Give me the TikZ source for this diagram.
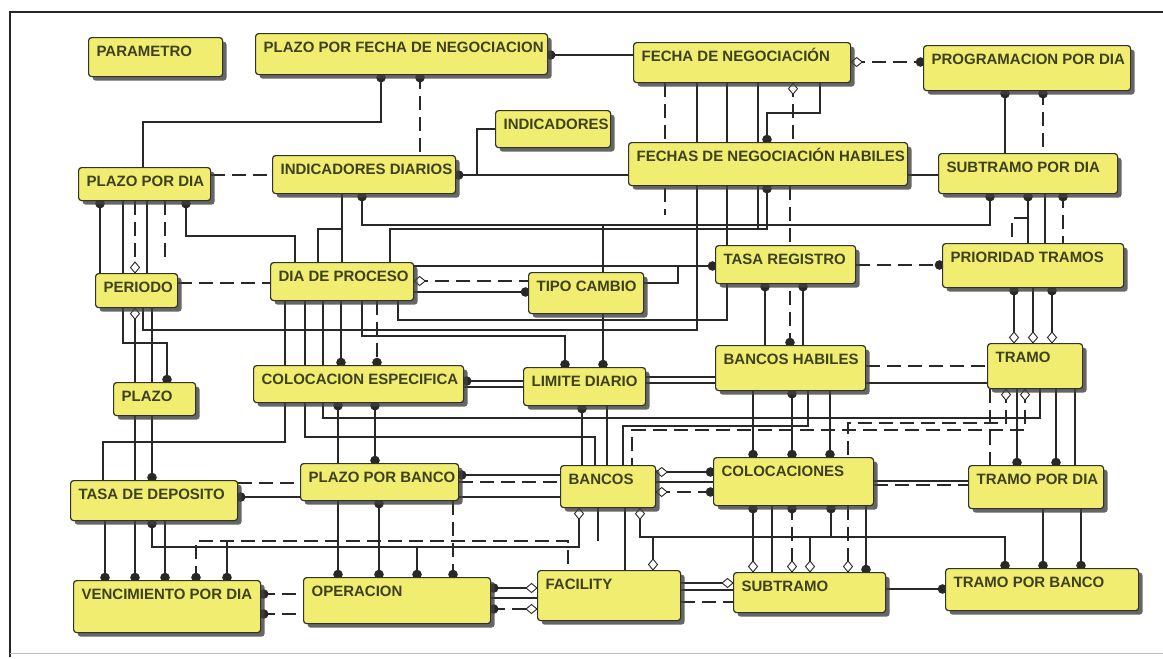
\documentclass[tikz,border=0pt]{standalone}
\usepackage{fontspec}
\setmainfont{Liberation Sans}
\usetikzlibrary{shadows,backgrounds,decorations.markings}
\definecolor{entfill}{RGB}{240,237,112}
\definecolor{entline}{RGB}{50,50,45}
\definecolor{enttext}{RGB}{62,64,30}
\definecolor{linec}{RGB}{40,40,40}
% end markers of the connectors
\newcommand\dotmark{\fill[linec] (0pt,0pt) circle (4.8pt);}
\newcommand\diamark{\filldraw[solid, draw=linec, fill=white, line width=0.9pt]
  (-5.5pt,0pt) -- (0pt,4.5pt) -- (5.5pt,0pt) -- (0pt,-4.5pt) -- cycle;}
\tikzset{
  entbox/.style={draw=entline, line width=1.2pt, fill=entfill, rounded corners=3pt,
    inner sep=0pt, anchor=north west, text=enttext,
    drop shadow={shadow xshift=4pt, shadow yshift=-4pt, fill=black!75, opacity=.8}},
  conn/.style={draw=linec, line width=1.05pt},
  dsh/.style={dash pattern=on 14pt off 7pt},
  dotE/.style={postaction={decorate, decoration={markings, mark=at position -2.5pt with {\dotmark}}}},
  dotS/.style={postaction={decorate, decoration={markings, mark=at position 2.5pt with {\dotmark}}}},
  dotB/.style={dotS, dotE},
  diaE/.style={postaction={decorate, decoration={markings, mark=at position -5.5pt with {\diamark}}}},
  diaS/.style={postaction={decorate, decoration={markings, mark=at position 5.5pt with {\diamark}}}},
  dotSdiaE/.style={dotS, diaE},
  diaSdotE/.style={diaS, dotE},
}
% entity box: name, left, top, width, height, title
\newcommand\entity[6]{%
  \node[entbox] (#1) at (#2,#3)
    {\parbox[b][#5pt][t]{#4pt}{\fontsize{15}{17}\selectfont\bfseries\hspace*{8pt}\rule{0pt}{19pt}#6}};}
\begin{document}
\begin{tikzpicture}[x=1pt,y=-1pt]
\useasboundingbox (0,0) rectangle (1163,659);

% entities
\entity{parametro}{88}{37}{134}{39}{PARAMETRO}
\entity{pfn}{255}{33}{292}{41}{PLAZO POR FECHA DE NEGOCIACION}
\entity{fn}{633}{42}{217}{40}{FECHA DE NEGOCIACIÓN}
\entity{prog}{923}{45}{207}{45}{PROGRAMACION POR DIA}
\entity{indic}{495}{110}{115}{37}{INDICADORES}
\entity{pxd}{78}{167}{132}{33}{PLAZO POR DIA}
\entity{indd}{272}{155}{183}{38}{INDICADORES DIARIOS}
\entity{fnh}{628}{142}{279}{43}{FECHAS DE NEGOCIACIÓN HABILES}
\entity{spd}{938}{153}{179}{40}{SUBTRAMO POR DIA}
\entity{periodo}{95}{273}{82}{34}{PERIODO}
\entity{dia}{270}{262}{143}{38}{DIA DE PROCESO}
\entity{tipo}{528}{272}{115}{41}{TIPO CAMBIO}
\entity{tasareg}{715}{245}{140}{38}{TASA REGISTRO}
\entity{prio}{942}{243}{181}{44}{PRIORIDAD TRAMOS}
\entity{plazo}{113}{382}{82}{33}{PLAZO}
\entity{colesp}{253}{365}{210}{37}{COLOCACION ESPECIFICA}
\entity{limite}{523}{367}{122}{38}{LIMITE DIARIO}
\entity{bh}{715}{345}{150}{45}{BANCOS HABILES}
\entity{tramo}{987}{343}{95}{45}{TRAMO}
\entity{tasadep}{70}{480}{167}{40}{TASA DE DEPOSITO}
\entity{pxb}{300}{463}{158}{37}{PLAZO POR BANCO}
\entity{bancos}{560}{465}{95}{42}{BANCOS}
\entity{coloc}{713}{457}{160}{48}{COLOCACIONES}
\entity{tpd}{968}{465}{135}{43}{TRAMO POR DIA}
\entity{vpd}{73}{580}{187}{52}{VENCIMIENTO POR DIA}
\entity{oper}{303}{577}{187}{46}{OPERACION}
\entity{facility}{537}{570}{143}{50}{FACILITY}
\entity{subtramo}{733}{572}{152}{40}{SUBTRAMO}
\entity{tpb}{945}{568}{193}{42}{TRAMO POR BANCO}

\coordinate (fnstub) at (665,215);
\coordinate (pxdstub) at (165,262);

\begin{scope}[on background layer]
\fill[white] (0,0) rectangle (1163,659);
% frame
\draw[line width=1.6pt, draw=black!85] (1163,12) -- (10,12) -- (10,657);
\draw[line width=1pt, draw=black!25] (10,653) -- (1163,653);
% upper band
\draw[conn,dotS] (pfn.east |- 0,55) -- (fn.west |- 0,55);
\draw[conn,dotS] (pfn.south -| 381,0) -- (381,122) -- (143,122) -- (pxd.north -| 143,0);
\draw[conn,dsh,dotS] (pfn.south -| 420,0) -- (indd.north -| 420,0);
\draw[conn,dsh,diaSdotE] (fn.east |- 0,62) -- (prog.west |- 0,62);
\draw[conn,dsh,diaS] (fn.south -| 793,0) -- (fnh.north -| 793,0);
\draw[conn,dotE] (fn.south -| 820,0) -- (820,113) -- (767,113) -- (fnh.north -| 767,0);
\draw[conn,dotS] (indd.east |- 0,175) -- (fnh.west |- 0,175);
\draw[conn] (indic.west |- 0,129) -- (477,129) -- (477,175);
\draw[conn,dsh] (pxd.east |- 0,175) -- (indd.west |- 0,175);
\draw[conn,dotS] (prog.south -| 1005,0) -- (spd.north -| 1005,0);
\draw[conn,dsh,dotS] (prog.south -| 1043,0) -- (spd.north -| 1043,0);
\draw[conn] (fnh.east |- 0,175) -- (spd.west |- 0,175);
% lines leaving FECHA DE NEGOCIACION downwards
\draw[conn,dsh] (fn.south -| 665,0) -- (fnstub);
\draw[conn] (fn.south -| 697,0) -- (697,330) -- (143,330) -- (periodo.south -| 143,0);
\draw[conn] (fn.south -| 727,0) -- (727,320) -- (398,320) -- (dia.south -| 398,0);
\draw[conn] (fn.south -| 758,0) -- (758,229);
% band above DIA DE PROCESO
\draw[conn,dotB] (spd.south -| 990,0) -- (990,225) -- (362,225) -- (indd.south -| 362,0);
\draw[conn,dotS] (fnh.south -| 767,0) -- (767,229) -- (390,229) -- (dia.north -| 390,0);
\draw[conn] (indd.south -| 342,0) -- (dia.north -| 342,0);
\draw[conn] (dia.north -| 318,0) -- (318,229) -- (342,229);
\draw[conn,dotS] (pxd.south -| 186,0) -- (186,236) -- (295,236) -- (dia.north -| 295,0);
\draw[conn] (tipo.north -| 603,0) -- (603,225);
% PLAZO POR DIA / PERIODO / PLAZO
\draw[conn,dotS] (pxd.south -| 100,0) -- (periodo.north -| 100,0);
\draw[conn] (pxd.south -| 123,0) -- (periodo.north -| 123,0);
\draw[conn,dsh,diaE] (pxd.south -| 135,0) -- (periodo.north -| 135,0);
\draw[conn] (pxd.south -| 147,0) -- (periodo.north -| 147,0);
\draw[conn,dsh] (pxd.south -| 165,0) -- (pxdstub);
\draw[conn,dsh] (periodo.east |- 0,283) -- (dia.west |- 0,283);
\draw[conn,diaS] (periodo.south -| 135,0) -- (plazo.north -| 135,0);
\draw[conn] (plazo.south -| 135,0) -- (tasadep.north -| 135,0);
\draw[conn,dotE] (periodo.south -| 123,0) -- (123,343) -- (167,343) -- (plazo.north -| 167,0);
\draw[conn,dotE] (periodo.south -| 152,0) -- (tasadep.north -| 152,0);
\draw[conn] (dia.south -| 285,0) -- (285,442) -- (103,442) -- (tasadep.north -| 103,0);
% DIA DE PROCESO / TIPO CAMBIO / TASA REGISTRO
\draw[conn,dsh,diaS] (dia.east |- 0,281) -- (tipo.west |- 0,281);
\draw[conn,dotE] (dia.east |- 0,292) -- (tipo.west |- 0,292);
\draw[conn,dotE] (dia.east |- 0,266) -- (tasareg.west |- 0,266);
\draw[conn] (tipo.east |- 0,283) -- (678,283) -- (678,266);
\draw[conn,dsh,dotE] (tasareg.east |- 0,265) -- (prio.west |- 0,265);
\draw[conn,dotE] (tipo.south -| 603,0) -- (limite.north -| 603,0);
\draw[conn,dotE] (dia.south -| 362,0) -- (362,336) -- (565,336) -- (limite.north -| 565,0);
% COLOCACION ESPECIFICA
\draw[conn,dotE] (dia.south -| 341,0) -- (colesp.north -| 341,0);
\draw[conn,dsh,dotE] (dia.south -| 377,0) -- (colesp.north -| 377,0);
\draw[conn] (dia.south -| 323,0) -- (323,418) -- (1040,418) -- (tramo.south -| 1040,0);
\draw[conn] (dia.south -| 305,0) -- (305,437) -- (595,437) -- (bancos.north -| 595,0);
\draw[conn,dotS] (colesp.east |- 0,381) -- (limite.west |- 0,381);
\draw[conn] (colesp.east |- 0,387) -- (limite.west |- 0,387);
\draw[conn] (limite.east |- 0,377) -- (bh.west |- 0,377);
\draw[conn] (limite.east |- 0,383) -- (bh.west |- 0,383);
\draw[conn,dotB] (colesp.south -| 338,0) -- (oper.north -| 338,0);
\draw[conn,dotB] (colesp.south -| 375,0) -- (pxb.north -| 375,0);
% LIMITE DIARIO / BANCOS
\draw[conn,dotS] (limite.south -| 582,0) -- (bancos.north -| 582,0);
\draw[conn] (limite.south -| 607,0) -- (bancos.north -| 607,0);
% TASA REGISTRO / BANCOS HABILES / TRAMO
\draw[conn,dotS] (tasareg.south -| 765,0) -- (bh.north -| 765,0);
\draw[conn,dotS] (tasareg.south -| 803,0) -- (bh.north -| 803,0);
\draw[conn,dsh,dotE] (fnh.south -| 790,0) -- (bh.north -| 790,0);
\draw[conn,dsh] (bh.east |- 0,366) -- (tramo.west |- 0,366);
\draw[conn] (bh.east |- 0,383) -- (tramo.west |- 0,383);
\draw[conn,dotE] (bh.south -| 753,0) -- (coloc.north -| 753,0);
\draw[conn,dotB] (bh.south -| 792,0) -- (coloc.north -| 792,0);
\draw[conn,dotE] (bh.south -| 830,0) -- (coloc.north -| 830,0);
\draw[conn] (bh.south -| 808,0) -- (808,426) -- (623,426) -- (bancos.north -| 623,0);
% PRIORIDAD TRAMOS / TRAMO
\draw[conn,dsh,dotS] (spd.south -| 1063,0) -- (prio.north -| 1063,0);
\draw[conn,dotS] (spd.south -| 1028,0) -- (prio.north -| 1028,0);
\draw[conn] (spd.south -| 1045,0) -- (prio.north -| 1045,0);
\draw[conn,dsh] (1028,218) -- (1012,218) -- (prio.north -| 1012,0);
\draw[conn,dotSdiaE] (prio.south -| 1014,0) -- (tramo.north -| 1014,0);
\draw[conn,diaE] (prio.south -| 1033,0) -- (tramo.north -| 1033,0);
\draw[conn,dotSdiaE] (prio.south -| 1052,0) -- (tramo.north -| 1052,0);
\draw[conn,dsh,diaS] (tramo.south -| 1006,0) -- (1006,423) -- (848,423) -- (coloc.north -| 848,0);
\draw[conn,dsh,diaS] (tramo.south -| 1025,0) -- (1025,430) -- (632,430) -- (bancos.north -| 632,0);
\draw[conn,dsh] (tramo.south -| 990,0) -- (tpd.north -| 990,0);
\draw[conn,dotE] (tramo.south -| 1017,0) -- (tpd.north -| 1017,0);
\draw[conn,dotE] (tramo.south -| 1056,0) -- (tpd.north -| 1056,0);
\draw[conn] (tramo.south -| 1075,0) -- (tpd.north -| 1075,0);
% PLAZO POR BANCO / BANCOS / COLOCACIONES / TRAMO POR DIA
\draw[conn,dsh] (tasadep.east |- 0,483) -- (pxb.west |- 0,483);
\draw[conn,dotS] (tasadep.east |- 0,497) -- (pxb.west |- 0,497);
\draw[conn,dotS] (pxb.east |- 0,475) -- (bancos.west |- 0,475);
\draw[conn,dsh] (pxb.east |- 0,482) -- (bancos.west |- 0,482);
\draw[conn] (pxb.east |- 0,497) -- (bancos.west |- 0,497);
\draw[conn,diaSdotE] (bancos.east |- 0,472) -- (coloc.west |- 0,472);
\draw[conn] (bancos.east |- 0,482) -- (coloc.west |- 0,482);
\draw[conn,dsh,diaSdotE] (bancos.east |- 0,492) -- (coloc.west |- 0,492);
\draw[conn] (coloc.east |- 0,481) -- (tpd.west |- 0,481);
\draw[conn,dsh] (coloc.east |- 0,485) -- (tpd.west |- 0,485);
% TASA DE DEPOSITO / VENCIMIENTO POR DIA
\draw[conn,dotE] (tasadep.south -| 105,0) -- (vpd.north -| 105,0);
\draw[conn,dotE] (tasadep.south -| 135,0) -- (vpd.north -| 135,0);
\draw[conn,dotE] (tasadep.south -| 165,0) -- (vpd.north -| 165,0);
\draw[conn,dotSdiaE] (tasadep.south -| 152,0) -- (152,547) -- (579,547) -- (bancos.south -| 579,0);
\draw[conn,dsh,dotS] (vpd.north -| 196,0) -- (196,541) -- (568,541) -- (facility.north -| 568,0);
\draw[conn,dotS] (vpd.north -| 227,0) -- (227,541);
\draw[conn,dotE] (417,547) -- (oper.north -| 417,0);
% OPERACION
\draw[conn,dotB] (pxb.south -| 379,0) -- (oper.north -| 379,0);
\draw[conn,dsh,dotE] (pxb.south -| 453,0) -- (oper.north -| 453,0);
\draw[conn,dsh,dotS] (vpd.east |- 0,594) -- (oper.west |- 0,594);
\draw[conn,dsh,dotS] (vpd.east |- 0,614) -- (oper.west |- 0,614);
\draw[conn,dotSdiaE] (oper.east |- 0,588) -- (facility.west |- 0,588);
\draw[conn] (oper.east |- 0,598) -- (facility.west |- 0,598);
\draw[conn,dsh,dotSdiaE] (oper.east |- 0,609) -- (facility.west |- 0,609);
% FACILITY / SUBTRAMO / TRAMO POR BANCO
\draw[conn,diaE] (facility.east |- 0,583) -- (subtramo.west |- 0,583);
\draw[conn] (facility.east |- 0,590) -- (subtramo.west |- 0,590);
\draw[conn,dsh] (facility.east |- 0,602) -- (subtramo.west |- 0,602);
\draw[conn,dotE] (subtramo.east |- 0,589) -- (tpb.west |- 0,589);
\draw[conn] (bancos.south -| 625,0) -- (facility.north -| 625,0);
\draw[conn] (bancos.south -| 598,0) -- (598,541);
\draw[conn,diaSdotE] (bancos.south -| 640,0) -- (640,537) -- (1005,537) -- (tpb.north -| 1005,0);
\draw[conn,diaS] (facility.north -| 653,0) -- (653,537);
\draw[conn,dotSdiaE] (coloc.south -| 753,0) -- (subtramo.north -| 753,0);
\draw[conn] (coloc.south -| 772,0) -- (subtramo.north -| 772,0);
\draw[conn,dsh,dotSdiaE] (coloc.south -| 792,0) -- (subtramo.north -| 792,0);
\draw[conn,diaE] (810,537) -- (subtramo.north -| 810,0);
\draw[conn,dotS] (coloc.south -| 831,0) -- (831,537);
\draw[conn,dsh,diaE] (coloc.south -| 848,0) -- (subtramo.north -| 848,0);
\draw[conn,dotE] (coloc.south -| 866,0) -- (subtramo.north -| 866,0);
\draw[conn,dotE] (tpd.south -| 1043,0) -- (tpb.north -| 1043,0);
\draw[conn,dotE] (tpd.south -| 1081,0) -- (tpb.north -| 1081,0);
\end{scope}
\end{tikzpicture}
\end{document}
